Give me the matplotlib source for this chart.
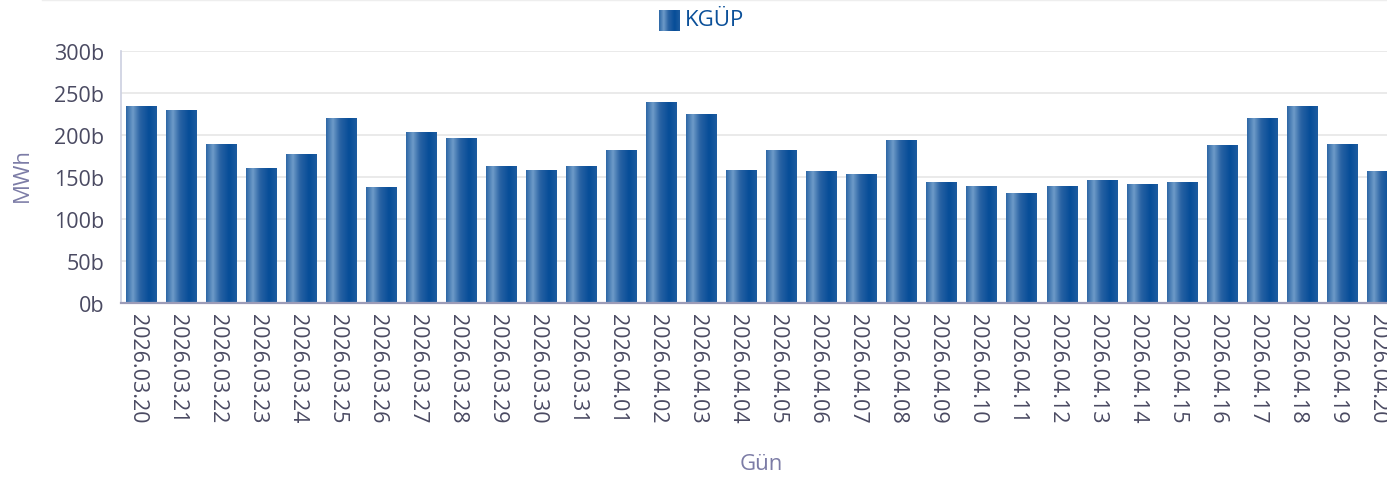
import matplotlib
matplotlib.use('Agg')
import matplotlib.pyplot as plt
import matplotlib.transforms as mtransforms
import numpy as np
from matplotlib.colors import LinearSegmentedColormap

# Data
dates = ['2026.03.20', '2026.03.21', '2026.03.22', '2026.03.23', '2026.03.24',
         '2026.03.25', '2026.03.26', '2026.03.27', '2026.03.28', '2026.03.29',
         '2026.03.30', '2026.03.31', '2026.04.01', '2026.04.02', '2026.04.03',
         '2026.04.04', '2026.04.05', '2026.04.06', '2026.04.07', '2026.04.08',
         '2026.04.09', '2026.04.10', '2026.04.11', '2026.04.12', '2026.04.13',
         '2026.04.14', '2026.04.15', '2026.04.16', '2026.04.17', '2026.04.18',
         '2026.04.19', '2026.04.20']
kgup = [234, 229, 189, 160, 177, 220, 137, 203, 196, 163,
        158, 163, 182, 239, 225, 158, 182, 156, 153, 194,
        144, 139, 130, 139, 146, 141, 144, 187, 220, 234,
        189, 156]
yticks = [0, 50, 100, 150, 200, 250, 300]
series_name = 'KGÜP'

plt.rcParams['font.family'] = ['Open Sans', 'DejaVu Sans']

# horizontal gradient used for the bars
grad = LinearSegmentedColormap.from_list('bar_grad', [
    (0.0, '#2d67a6'), (0.22, '#6e9bc8'), (0.45, '#2a63a4'),
    (0.75, '#064d98'), (1.0, '#1d5ca0')])
grad_img = np.linspace(0, 1, 64).reshape(1, -1)

fig = plt.figure(figsize=(13.87, 4.89), dpi=100)
ax = fig.add_axes([121 / 1387, 185 / 489, 1281 / 1387, 252 / 489])

x = np.arange(len(dates))
bars = ax.bar(x, kgup, width=0.76, color='none', zorder=2)
for b in bars:
    x0, w, h = b.get_x(), b.get_width(), b.get_height()
    ax.imshow(grad_img, cmap=grad, aspect='auto', interpolation='bilinear',
              extent=[x0, x0 + w, 0, h], zorder=2)

ax.set_xlim(-0.5, len(dates) - 0.5)
ax.set_ylim(0, 300)
ax.set_yticks(yticks)
ax.set_yticklabels([f'{v}b' for v in yticks])
ax.set_xticks(x)
ax.set_xticklabels(dates, rotation=270)

ax.grid(axis='y', color='#e6e6e6', linewidth=1.2, zorder=0)
ax.set_axisbelow(True)
for s in ['top', 'right']:
    ax.spines[s].set_visible(False)
ax.spines['left'].set_color('#ccd0e0')
ax.spines['left'].set_linewidth(1.2)
ax.spines['bottom'].set_color('#9c9cb8')
ax.spines['bottom'].set_linewidth(1.6)
ax.tick_params(axis='both', length=0, labelsize=15.5, labelcolor='#4a4a62')
ax.tick_params(axis='y', pad=12)
ax.tick_params(axis='x', pad=7)

# nudge date labels slightly left, like the original (after tick_params)
shift = mtransforms.ScaledTranslation(-4 / 100, 0, fig.dpi_scale_trans)
for lbl in ax.get_xticklabels():
    lbl.set_transform(lbl.get_transform() + shift)

ax.set_xlabel('Gün', fontsize=16, color='#7c7ca6', labelpad=22)
fig.text(22 / 1387, 1 - 175 / 489, 'MWh', rotation=90, fontsize=16,
         color='#7c7ca6', ha='center', va='center')

# legend: gradient square + label
lax = fig.add_axes([659 / 1387, 1 - 32 / 489, 21 / 1387, 21 / 489])
lax.imshow(grad_img, cmap=grad, aspect='auto', interpolation='bilinear')
lax.axis('off')
fig.text(685 / 1387, 1 - 21 / 489, series_name, fontsize=16, color='#0b5099',
         ha='left', va='center')

# faint border line at top
fig.add_artist(plt.Line2D([0.03, 1], [0.998, 0.998], color='#eeeeee', linewidth=1))

plt.savefig('out.png', dpi=100)
plt.close()
